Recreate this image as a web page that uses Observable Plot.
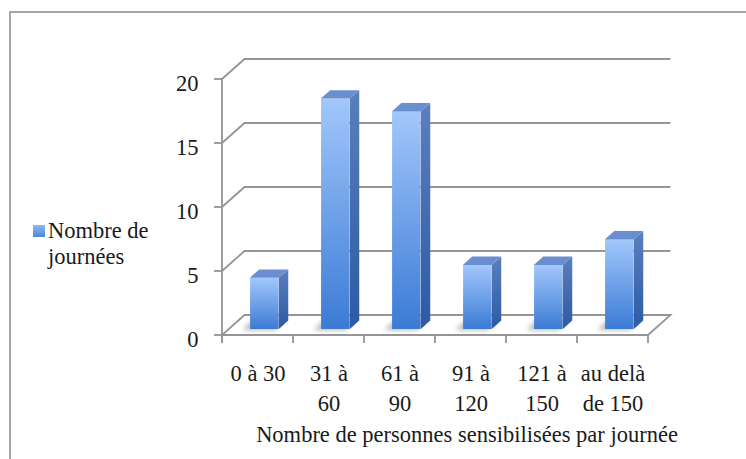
<!DOCTYPE html>
<html>
<head>
<meta charset="utf-8">
<script src="https://cdn.jsdelivr.net/npm/d3@7"></script>
<script src="https://cdn.jsdelivr.net/npm/@observablehq/plot@0.6"></script>
<style>
  html, body { margin: 0; padding: 0; background: #fff; }
  #wrap { position: relative; width: 746px; height: 459px; overflow: hidden; font-family: "Times New Roman", "Liberation Serif", Tinos, "DejaVu Serif", serif; color: #1a1a1a; }
  #frame { position: absolute; left: 9px; top: 11px; width: 800px; height: 500px; border-left: 2px solid #a6a6a6; border-top: 2px solid #a6a6a6; }
  #chart { position: absolute; left: 0; top: 0; }
  #legend-swatch { position: absolute; left: 33px; top: 225px; width: 12px; height: 12px; background: linear-gradient(#8fb9f2, #4a87da); }
  #legend-text { position: absolute; left: 48px; top: 218px; width: 130px; font-size: 22.5px; line-height: 26px; }
</style>
</head>
<body>
<div id="wrap">
  <div id="frame"></div>
  <div id="chart"></div>
  <div id="legend-swatch"></div>
  <div id="legend-text"></div>
</div>
<script>
// Nombre de journées par tranche de personnes sensibilisées
const categories = ["0 à 30", "31 à 60", "61 à 90", "91 à 120", "121 à 150", "au delà de 150"];
const categoryLabels = ["0 à 30", "31 à\n60", "61 à\n90", "91 à\n120", "121 à\n150", "au delà\nde 150"];
const values = [4, 18, 17, 5, 5, 7];
const yTicks = [0, 5, 10, 15, 20];
const seriesName = "Nombre de journées";
const xTitle = "Nombre de personnes sensibilisées par journée";

const data = categories.map((c, i) => ({category: c, value: values[i]}));
const labelOf = new Map(categories.map((c, i) => [c, categoryLabels[i]]));

// 3D look: depth of the floor/back wall, position and depth of the bars inside it
const DEPTH = [22.5, -20];
const BAR_FRONT = [6.75, -6];
const BAR_DEPTH = [9.5, -8.4];
const BAR_WIDTH = 29;
const FONT = 22.5;
const FONT_FAMILY = "'Times New Roman', 'Liberation Serif', Tinos, 'DejaVu Serif', serif";

const defs = () => {
  const s = d3.create("svg:defs");
  const f = s.append("linearGradient").attr("id", "front-face").attr("x1", 0).attr("y1", 0).attr("x2", 0).attr("y2", 1);
  f.append("stop").attr("offset", 0).attr("stop-color", "#a2c7fb");
  f.append("stop").attr("offset", 1).attr("stop-color", "#3b7bd5");
  const sd = s.append("linearGradient").attr("id", "side-face").attr("x1", 0).attr("y1", 0).attr("x2", 0).attr("y2", 1);
  sd.append("stop").attr("offset", 0).attr("stop-color", "#5b7fbd");
  sd.append("stop").attr("offset", 1).attr("stop-color", "#2c5aa4");
  s.append("filter").attr("id", "soft").attr("x", "-50%").attr("y", "-50%").attr("width", "200%").attr("height", "200%")
    .append("feGaussianBlur").attr("stdDeviation", 2.5);
  return s.node();
};

// Floor, back-wall gridlines, front axis line and tick marks
const walls = (index, {x, y}) => {
  const step = x(categories[1]) - x(categories[0]);
  const x0 = x(categories[0]);
  const x1 = x0 + step * categories.length;
  const y0 = y(0);
  const g = d3.create("svg:g").attr("fill", "none").attr("stroke", "#959595").attr("stroke-width", 1.8);
  g.append("path")
    .attr("fill", "#fff")
    .attr("d", `M${x0},${y0}L${x1},${y0}L${x1 + DEPTH[0]},${y0 + DEPTH[1]}L${x0 + DEPTH[0]},${y0 + DEPTH[1]}Z`);
  for (const t of yTicks) {
    const py = y(t);
    if (t > 0) {
      g.append("path").attr("d", `M${x0},${py}L${x0 + DEPTH[0]},${py + DEPTH[1]}L${x1 + DEPTH[0]},${py + DEPTH[1]}`);
    }
    g.append("line").attr("x1", x0 - 8).attr("x2", x0).attr("y1", py).attr("y2", py);
  }
  g.append("line").attr("x1", x0).attr("x2", x0).attr("y1", y0 + 7).attr("y2", y(d3.max(yTicks)));
  for (let i = 0; i <= categories.length; i++) {
    const px = x0 + i * step;
    g.append("line").attr("x1", px).attr("x2", px).attr("y1", y0).attr("y2", y0 + 8);
  }
  // soft shadows of the bars on the floor
  const sh = g.append("g").attr("stroke", "none").attr("fill", "#6d6d6d").attr("opacity", 0.5).attr("filter", "url(#soft)");
  for (const d of data) {
    const cx = x(d.category) + step / 2 + BAR_FRONT[0];
    const by = y0 + BAR_FRONT[1];
    const l = cx - BAR_WIDTH / 2 - 7, r = cx + BAR_WIDTH / 2 - 4;
    sh.append("path").attr("d", `M${l},${by + 1}L${r},${by + 1}L${r + BAR_DEPTH[0]},${by + BAR_DEPTH[1]}L${l + BAR_DEPTH[0]},${by + BAR_DEPTH[1]}Z`);
  }
  return g.node();
};

// Side and top faces of each bar
const barSides = (index, {x, y}) => {
  const step = x(categories[1]) - x(categories[0]);
  const g = d3.create("svg:g");
  for (const d of data) {
    const cx = x(d.category) + step / 2 + BAR_FRONT[0];
    const l = cx - BAR_WIDTH / 2, r = cx + BAR_WIDTH / 2;
    const top = y(d.value) + BAR_FRONT[1];
    const bot = y(0) + BAR_FRONT[1];
    g.append("path").attr("fill", "url(#side-face)")
      .attr("d", `M${r},${bot}L${r + BAR_DEPTH[0]},${bot + BAR_DEPTH[1]}L${r + BAR_DEPTH[0]},${top + BAR_DEPTH[1]}L${r},${top}Z`);
    g.append("path").attr("fill", "#6a8ecf")
      .attr("d", `M${l},${top}L${r},${top}L${r + BAR_DEPTH[0]},${top + BAR_DEPTH[1]}L${l + BAR_DEPTH[0]},${top + BAR_DEPTH[1]}Z`);
  }
  return g.node();
};

const width = 746, height = 459;
const marginLeft = 220, marginRight = 96, marginTop = 79, marginBottom = 124;
const inset = ((width - marginLeft - marginRight) / categories.length - BAR_WIDTH) / 2;

const chart = Plot.plot({
  width, height, marginLeft, marginRight, marginTop, marginBottom,
  style: {background: "transparent", fontFamily: FONT_FAMILY, fontSize: FONT + "px", color: "#1a1a1a", overflow: "visible"},
  x: {domain: categories, padding: 0},
  y: {domain: [0, 20]},
  marks: [
    defs,
    walls,
    Plot.barY(data, {x: "category", y: "value", fill: "url(#front-face)", insetLeft: inset, insetRight: inset, dx: BAR_FRONT[0], dy: BAR_FRONT[1]}),
    barSides,
    Plot.axisY({ticks: yTicks, tickSize: 0, tickPadding: 22, dy: 4, fontSize: FONT, fontFamily: FONT_FAMILY, label: null}),
    Plot.axisX({tickSize: 0, tickPadding: 24, tickFormat: (d) => labelOf.get(d), lineHeight: 1.33, fontSize: FONT, fontFamily: FONT_FAMILY, label: null}),
    Plot.text([xTitle], {text: (d) => d, frameAnchor: "bottom", dx: 31.5, dy: 106, fontSize: FONT, fontFamily: FONT_FAMILY})
  ]
});
document.getElementById("chart").appendChild(chart);
document.getElementById("legend-text").textContent = seriesName;
</script>
</body>
</html>
